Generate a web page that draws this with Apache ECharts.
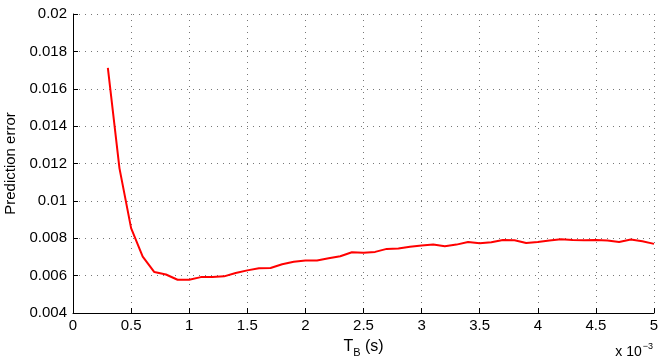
<!DOCTYPE html>
<html>
<head>
<meta charset="utf-8">
<style>
  html, body { margin: 0; padding: 0; background: #fff; }
  #chart { width: 661px; height: 362px; }
</style>
<script src="https://cdn.jsdelivr.net/npm/echarts@6/dist/echarts.min.js"></script>
</head>
<body>
<div id="chart"></div>
<script>
// Bin duration T_B, in units of 1e-3 s
const tbValues = [0.3, 0.4, 0.5, 0.6, 0.7, 0.8, 0.9, 1.0, 1.1, 1.2, 1.3, 1.4, 1.5,
  1.6, 1.7, 1.8, 1.9, 2.0, 2.1, 2.2, 2.3, 2.4, 2.5, 2.6, 2.7, 2.8, 2.9, 3.0,
  3.1, 3.2, 3.3, 3.4, 3.5, 3.6, 3.7, 3.8, 3.9, 4.0, 4.1, 4.2, 4.3, 4.4, 4.5,
  4.6, 4.7, 4.8, 4.9, 5.0];
// Prediction error for each bin duration
const errorValues = [0.01712, 0.01174, 0.00854, 0.00702, 0.00619, 0.00606, 0.00578, 0.00578,
  0.00592, 0.00593, 0.00596, 0.00614, 0.00628,
  0.00640, 0.00641, 0.00661, 0.00674, 0.00681, 0.00681, 0.00693, 0.00704, 0.00725,
  0.00723, 0.00727, 0.00743, 0.00745, 0.00754, 0.00761,
  0.00766, 0.00757, 0.00766, 0.00780, 0.00773, 0.00779, 0.00791, 0.00789, 0.00775,
  0.00780, 0.00788, 0.00795, 0.00791, 0.00789, 0.00791,
  0.00788, 0.00780, 0.00793, 0.00784, 0.00770];
const xTicks = { min: 0, max: 5, step: 0.5 };
const yTicks = { min: 0.004, max: 0.02, step: 0.002 };

const font = 'Liberation Sans, Arial, sans-serif';
const chart = echarts.init(document.getElementById('chart'), null, { renderer: 'canvas' });

const gridLine = { show: true, lineStyle: { color: '#777', width: 1, type: [1, 5] } };

chart.setOption({
  animation: false,
  backgroundColor: '#fff',
  grid: { left: 73, right: 7, top: 14, bottom: 49, containLabel: false, outerBoundsMode: 'none' },
  xAxis: {
    type: 'value',
    min: xTicks.min, max: xTicks.max, interval: xTicks.step,
    axisLine: { show: true, lineStyle: { color: '#000', width: 1 } },
    axisTick: { show: true, inside: true, length: 5, lineStyle: { color: '#000' } },
    axisLabel: { color: '#000', fontFamily: font, fontSize: 15, margin: 5 },
    splitLine: gridLine,
    name: '{t|T}{s|B}{t| (s)}',
    nameLocation: 'middle',
    nameGap: 22,
    nameTextStyle: {
      rich: {
        t: { fontFamily: font, fontSize: 16, color: '#000' },
        s: { fontFamily: font, fontSize: 11, color: '#000', verticalAlign: 'bottom', padding: [12, 0, 0, 0] }
      }
    }
  },
  yAxis: {
    type: 'value',
    min: yTicks.min, max: yTicks.max, interval: yTicks.step,
    axisLine: { show: true, lineStyle: { color: '#000', width: 1 } },
    axisTick: { show: true, inside: true, length: 5, lineStyle: { color: '#000' } },
    axisLabel: { color: '#000', fontFamily: font, fontSize: 15, margin: 6 },
    splitLine: gridLine,
    name: 'Prediction error',
    nameLocation: 'middle',
    nameGap: 45,
    nameTextStyle: { color: '#000', fontFamily: font, fontSize: 15 }
  },
  graphic: [{
    type: 'text',
    right: 8,
    top: 342,
    style: {
      text: '{b|x 10}{e|−3}',
      rich: {
        b: { fontFamily: font, fontSize: 14, fill: '#000' },
        e: { fontFamily: font, fontSize: 9, fill: '#000', verticalAlign: 'top', padding: [0, 0, 12, 1] }
      }
    }
  }],
  series: [{
    type: 'line',
    data: tbValues.map((t, i) => [t, errorValues[i]]),
    showSymbol: false,
    lineStyle: { color: '#ff0000', width: 2 },
    z: 5
  }]
});
</script>
</body>
</html>
